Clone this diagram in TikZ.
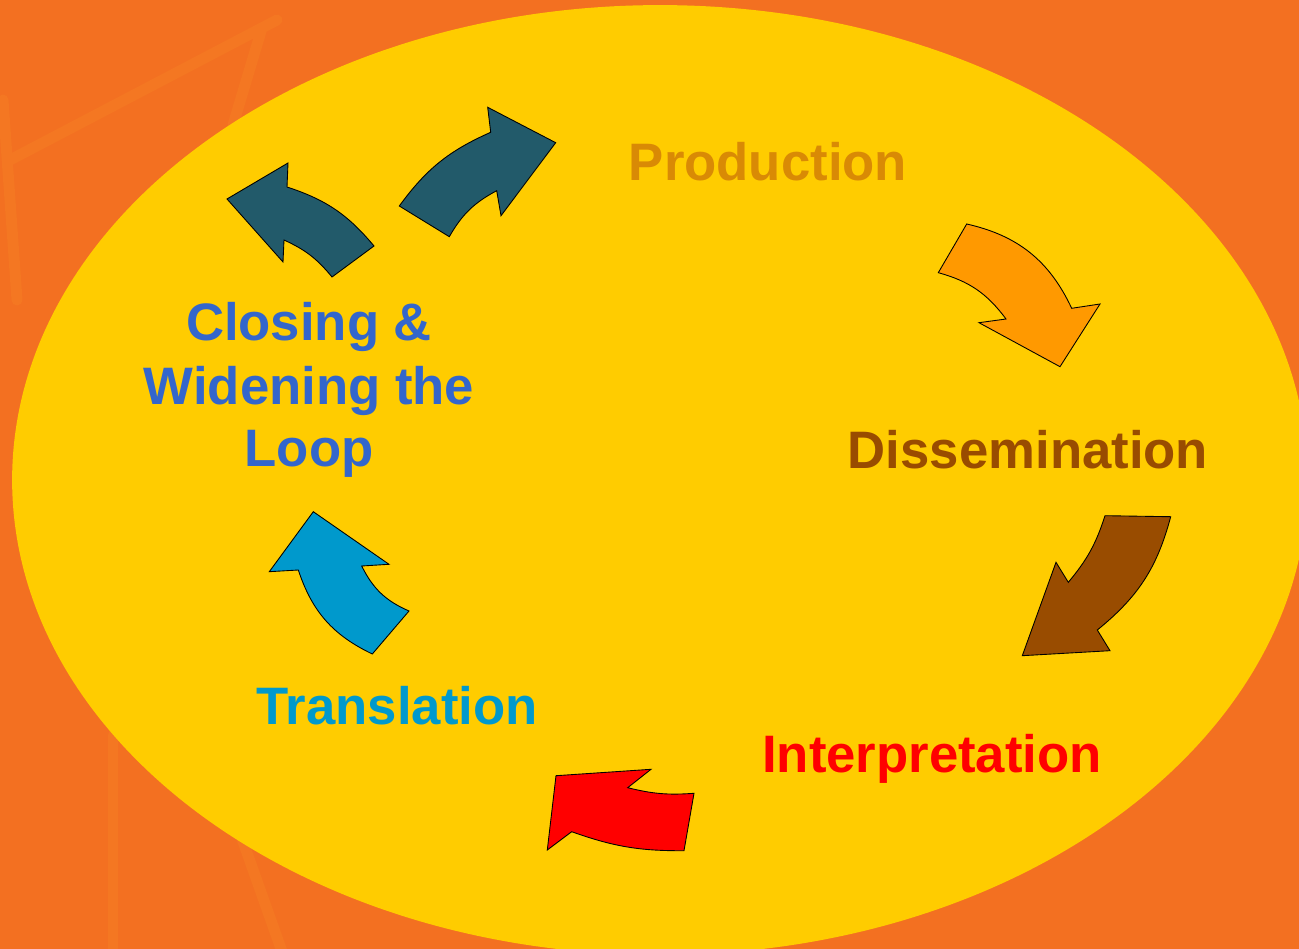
\documentclass[tikz,border=0pt]{standalone}
\usepackage{fontspec}
\setmainfont{Liberation Sans}
\definecolor{bgorange}{HTML}{F37021}
\definecolor{bgline}{HTML}{F47722}
\definecolor{ovalyellow}{HTML}{FFCC00}
\definecolor{teal}{HTML}{225A6A}
\definecolor{arrorange}{HTML}{FF9900}
\definecolor{arrbrown}{HTML}{994C00}
\definecolor{arrred}{HTML}{FF0000}
\definecolor{arrblue}{HTML}{0099CC}
\definecolor{txtprod}{HTML}{D98A05}
\definecolor{txtdiss}{HTML}{994C00}
\definecolor{txtclose}{HTML}{3366CC}
\tikzset{
  lbl/.style={anchor=base, inner sep=0pt, font=\bfseries\fontsize{30}{36}\selectfont},
  blockarrow/.style={draw=black, line width=0.5pt, line join=miter}
}
\begin{document}
\begin{tikzpicture}[x=0.02cm,y=0.02cm]
\useasboundingbox (0,0) rectangle (1299,-949);
\fill[bgorange] (0,0) rectangle (1299,-949);
% faint background lines
\begin{scope}[bgline, line width=0.22cm, line cap=round]
\draw (10,-160) -- (277,-20);
\draw (262,-28) -- (233,-125);
\draw (3,-100) -- (17,-300);
\draw (113,-735) -- (113,-960);
\draw (240,-833) -- (285,-960);
\end{scope}
\fill[ovalyellow] (660,-480) ellipse [x radius=12.96cm, y radius=9.5cm];

% teal arrow (left)
\filldraw[blockarrow, fill=teal] (227,-199) -- (288,-163) -- (287,-187)
  to[bend left=16] (374,-246) -- (332,-277)
  to[bend right=13] (284,-240) -- (283,-262) -- cycle;
% teal arrow (right)
\filldraw[blockarrow, fill=teal] (555.7,-142.7) -- (487.7,-107.3) -- (490.7,-132.3)
  to[bend right=15] (399.3,-206) -- (449.3,-236.7)
  to[bend left=16] (496.7,-190.7) -- (501,-215.7) -- cycle;
% orange arrow
\filldraw[blockarrow, fill=arrorange] (966.7,-224)
  to[bend left=26] (1071.7,-308.3) -- (1100,-304) -- (1060,-366.7)
  -- (979,-322.7) -- (1006,-319)
  to[bend right=19] (938.3,-272.7) -- cycle;
% brown arrow
\filldraw[blockarrow, fill=arrbrown] (1105,-515.7) -- (1170.7,-516.7)
  to[bend left=18] (1097.3,-630) -- (1110,-650.7) -- (1022.3,-655.7)
  -- (1056,-562.3) -- (1068.3,-582.3)
  to[bend right=11] (1105,-515.7) -- cycle;
% red arrow
\filldraw[blockarrow, fill=arrred] (556,-775.7) -- (651,-769.3) -- (627.7,-787.7)
  to[bend right=9] (694,-793.3) -- (684,-850.7)
  to[bend left=10] (571.7,-831.7) -- (547.3,-850) -- cycle;
% blue arrow
\filldraw[blockarrow, fill=arrblue] (313.3,-511.7) -- (389,-564.3) -- (361.7,-566)
  to[bend right=20] (409,-611) -- (372.3,-654)
  to[bend left=23] (298.3,-570) -- (269.3,-571.7) -- cycle;

% labels
\node[lbl, text=txtprod] (prod) at (768,-181) {Production};
\node[lbl, text=txtdiss] (diss) at (1028,-468.5) {Dissemination};
\node[lbl, text=arrred] (interp) at (932,-772) {Interpretation};
\node[lbl, text=arrblue] (trans) at (397,-724.5) {Translation};
\node[lbl, text=txtclose] (close1) at (309,-341) {Closing \&};
\node[lbl, text=txtclose] (close2) at (309,-405) {Widening the};
\node[lbl, text=txtclose] (close3) at (309,-467) {Loop};
\end{tikzpicture}
\end{document}
